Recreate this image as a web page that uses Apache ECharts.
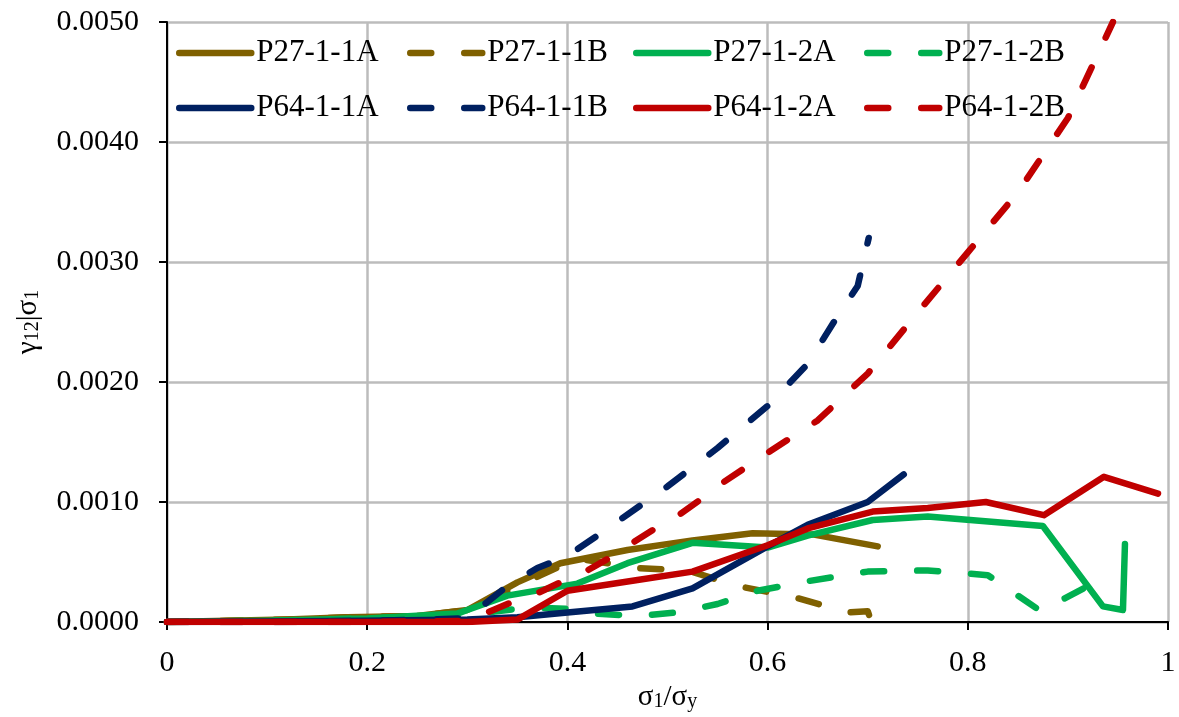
<!DOCTYPE html>
<html>
<head>
<meta charset="utf-8">
<script src="https://cdn.jsdelivr.net/npm/echarts@6/dist/echarts.min.js"></script>
<style>
  html, body { margin: 0; padding: 0; background: #fff; }
  #chart { width: 1179px; height: 717px; }
</style>
</head>
<body>
<div id="chart"></div>
<script>
// values (x = sigma1/sigmay, y = gamma12|sigma1)
const p27_11A_x = [0, 0.06, 0.12, 0.18, 0.25, 0.3, 0.35, 0.393, 0.46, 0.525, 0.585, 0.645, 0.71];
const p27_11A_y = [0, 0.00001, 0.00002, 0.00004, 0.00005, 0.0001, 0.00033, 0.00049, 0.0006, 0.00068, 0.00074, 0.00073, 0.00063];

const p27_11B_x = [0, 0.06, 0.12, 0.18, 0.25, 0.3, 0.35, 0.41, 0.47, 0.52, 0.57, 0.625, 0.68, 0.70, 0.703];
const p27_11B_y = [0, 0.00001, 0.00002, 0.00004, 0.00005, 0.0001, 0.0003, 0.00053, 0.00045, 0.00043, 0.0003, 0.00021, 0.00008, 0.00009, 0.00002];

const p27_12A_x = [0, 0.1, 0.2, 0.29, 0.3, 0.34, 0.41, 0.46, 0.525, 0.6, 0.64, 0.705, 0.76, 0.875, 0.935, 0.955, 0.957];
const p27_12A_y = [0, 0.00001, 0.00003, 0.00007, 0.0001, 0.00022, 0.00032, 0.00049, 0.00066, 0.00062, 0.00072, 0.00085, 0.00088, 0.0008, 0.00013, 0.0001, 0.00065];

const p27_12B_x = [0, 0.1, 0.2, 0.3, 0.36, 0.4, 0.43, 0.47, 0.51, 0.55, 0.59, 0.64, 0.70, 0.76, 0.82, 0.873, 0.92];
const p27_12B_y = [0, 0.00001, 0.00003, 0.00006, 0.00012, 0.00011, 0.00007, 0.00005, 0.00008, 0.00015, 0.00026, 0.00034, 0.00042, 0.00043, 0.00039, 0.00009, 0.0003];

const p64_11A_x = [0, 0.1, 0.2, 0.3, 0.35, 0.4, 0.465, 0.525, 0.6, 0.64, 0.70, 0.736];
const p64_11A_y = [0, 0.000005, 0.00001, 0.00002, 0.00004, 0.00008, 0.00013, 0.00028, 0.00063, 0.00081, 0.001, 0.00123];

const p64_11B_x = [0, 0.1, 0.2, 0.3, 0.31, 0.34, 0.37, 0.4, 0.43, 0.5, 0.55, 0.6, 0.64, 0.67, 0.69, 0.701];
const p64_11B_y = [0, 0, 0.00001, 0.00003, 0.0001, 0.0003, 0.00045, 0.00055, 0.00072, 0.00113, 0.00145, 0.0018, 0.00215, 0.00255, 0.0028, 0.0032];

const p64_12A_x = [0, 0.1, 0.2, 0.3, 0.35, 0.4, 0.47, 0.525, 0.6, 0.64, 0.705, 0.76, 0.818, 0.876, 0.936, 0.99];
const p64_12A_y = [0, 0, 0, 0, 0.00002, 0.00026, 0.00035, 0.00042, 0.00064, 0.00078, 0.00092, 0.00095, 0.001, 0.00089, 0.00121, 0.00107];

const p64_12B_x = [0, 0.1, 0.2, 0.3, 0.32, 0.343, 0.37, 0.393, 0.42, 0.441, 0.465, 0.486, 0.511, 0.533, 0.555, 0.6, 0.65, 0.7, 0.75, 0.8, 0.85, 0.9, 0.945];
const p64_12B_y = [0, 0, 0, 0.00001, 0.00008, 0.00016, 0.00024, 0.00033, 0.00043, 0.00053, 0.00066, 0.00077, 0.00089, 0.00102, 0.00116, 0.00141, 0.00168, 0.00207, 0.00258, 0.00308, 0.00358, 0.0042, 0.005];

const xTicks = [0, 0.2, 0.4, 0.6, 0.8, 1];
const yTicks = [0, 0.001, 0.002, 0.003, 0.004, 0.005];

const BROWN = '#7f6000', GREEN = '#00b050', NAVY = '#002060', RED = '#c00000';
const FONT = '"Liberation Serif", "Times New Roman", serif';
const DASH = [21, 33];

function pairs(xs, ys) {
  return xs.map((x, i) => [x, ys[i]]);
}

function line(name, xs, ys, color, dashed) {
  return {
    name: name,
    type: 'line',
    data: pairs(xs, ys),
    symbol: 'none',
    color: color,
    lineStyle: {
      color: color,
      width: 6.5,
      type: dashed ? DASH : 'solid',
      cap: 'round',
      join: 'round'
    },
    animation: false
  };
}

const series = [
  line('P27-1-1A', p27_11A_x, p27_11A_y, BROWN, false),
  line('P27-1-1B', p27_11B_x, p27_11B_y, BROWN, true),
  line('P27-1-2A', p27_12A_x, p27_12A_y, GREEN, false),
  line('P27-1-2B', p27_12B_x, p27_12B_y, GREEN, true),
  line('P64-1-1A', p64_11A_x, p64_11A_y, NAVY, false),
  line('P64-1-1B', p64_11B_x, p64_11B_y, NAVY, true),
  line('P64-1-2A', p64_12A_x, p64_12A_y, RED, false),
  line('P64-1-2B', p64_12B_x, p64_12B_y, RED, true)
];

// four legend columns, two rows each
const legendCols = [
  ['P27-1-1A', 'P64-1-1A'],
  ['P27-1-1B', 'P64-1-1B'],
  ['P27-1-2A', 'P64-1-2A'],
  ['P27-1-2B', 'P64-1-2B']
];
const legendLeft = [176, 407, 633, 864];
const legends = legendCols.map((names, i) => ({
  data: names,
  orient: 'vertical',
  left: legendLeft[i],
  top: 37,
  padding: 0,
  itemWidth: 72,
  itemHeight: 20,
  itemGap: 23,
  itemStyle: { opacity: 0 },
  lineStyle: { width: 6.5, cap: 'round' },
  textStyle: { fontFamily: FONT, fontSize: 31, color: '#000', lineHeight: 32 }
}));

const richName = {
  a: { fontFamily: FONT, fontSize: 29, color: '#000', lineHeight: 30, verticalAlign: 'bottom' },
  s: { fontFamily: FONT, fontSize: 20, color: '#000', lineHeight: 24, verticalAlign: 'bottom' }
};

const chart = echarts.init(document.getElementById('chart'), null, { renderer: 'canvas' });

chart.setOption({
  backgroundColor: '#fff',
  animation: false,
  grid: { left: 167, right: 11, top: 22, bottom: 95 },
  legend: legends,
  xAxis: {
    type: 'value',
    min: xTicks[0],
    max: xTicks[xTicks.length - 1],
    interval: 0.2,
    name: '{a|σ}{s|1}{a|/σ}{s|y}',
    nameLocation: 'middle',
    nameGap: 46,
    nameTextStyle: { rich: richName },
    axisLine: { show: true, onZero: false, lineStyle: { color: '#000', width: 2 } },
    axisTick: { show: true, length: 8, lineStyle: { color: '#000', width: 2 } },
    axisLabel: {
      fontFamily: FONT, fontSize: 30, color: '#000', margin: 26,
      formatter: v => (v === 0 ? '0' : v === 1 ? '1' : v.toFixed(1))
    },
    splitLine: { show: true, lineStyle: { color: '#bcbcbc', width: 2.5 } }
  },
  yAxis: {
    type: 'value',
    min: yTicks[0],
    max: yTicks[yTicks.length - 1],
    interval: 0.001,
    name: '{a|γ}{s|12}{a||σ}{s|1}',
    nameLocation: 'middle',
    nameRotate: 90,
    nameGap: 124,
    nameTextStyle: { rich: richName },
    axisLine: { show: true, lineStyle: { color: '#000', width: 2 } },
    axisTick: { show: true, length: 8, lineStyle: { color: '#000', width: 2 } },
    axisLabel: {
      fontFamily: FONT, fontSize: 30, color: '#000', margin: 28,
      formatter: v => v.toFixed(4)
    },
    splitLine: { show: true, lineStyle: { color: '#bcbcbc', width: 2.5 } }
  },
  series: series
});

window.addEventListener('resize', () => chart.resize());
</script>
</body>
</html>
